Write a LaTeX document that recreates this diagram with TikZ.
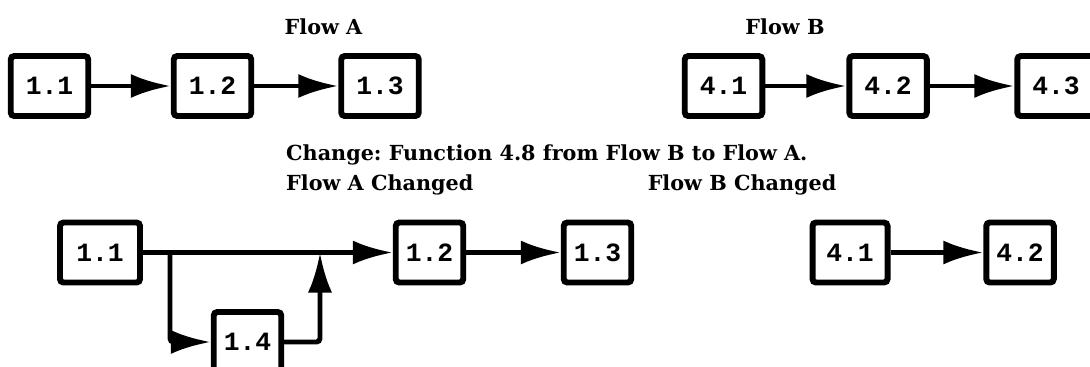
\documentclass[tikz,border=0pt]{standalone}
\usepackage{fontspec}
\newfontfamily\boxfont{Liberation Mono}
\newfontfamily\headfont{DejaVu Serif}
\usetikzlibrary{arrows.meta}

\begin{document}
\begin{tikzpicture}[
	box/.style={draw, line width=3.4pt, rounded corners=2pt, minimum width=1.55cm, minimum height=1.2cm, font=\boxfont\bfseries\fontsize{15}{17}\selectfont},
	lowbox/.style={box, minimum width=1.35cm},
	flow/.style={line width=2.8pt, -{Latex[length=0.8cm,width=0.48cm]}},
	title/.style={font=\headfont\bfseries\fontsize{11.8}{14}\selectfont}
	]
		
		\useasboundingbox (0,0) rectangle (21.8,-7.32);
		
		\node[title] (titleA) at (6.47,-0.54) {Flow A};
		\node[title] (titleB) at (15.7,-0.54) {Flow B};
		
		\node[box] (A1) at (0.99,-1.72) {1.1};
		\node[box] (A2) at (4.25,-1.72) {1.2};
		\node[box] (A3) at (7.6,-1.72) {1.3};
		\draw[flow] (A1) -- (A2);
		\draw[flow] (A2) -- (A3);
		
		\node[box] (B1) at (14.47,-1.72) {4.1};
		\node[box] (B2) at (17.76,-1.72) {4.2};
		\node[box] (B3) at (21.12,-1.72) {4.3};
		\draw[flow] (B1) -- (B2);
		\draw[flow] (B2) -- (B3);
		
		\node[title, anchor=west] (change) at (5.6,-3.1) {Change:\ Function 4.8 from Flow B to Flow A.};
		\node[title, anchor=west] (titleAc) at (5.6,-3.7) {Flow A Changed};
		\node[title, anchor=east] (titleBc) at (16.85,-3.7) {Flow B Changed};
		
		\node[lowbox, minimum width=1.6cm] (C1) at (2.0,-5.05) {1.1};
		\node[lowbox] (C2) at (8.59,-5.05) {1.2};
		\node[lowbox] (C3) at (11.95,-5.05) {1.3};
		\node[lowbox] (C4) at (4.95,-6.84) {1.4};
		\coordinate (split) at (3.4,-5.05);
		\coordinate (merge) at (6.4,-5.05);
		\draw[flow] (C1) -- (C2);
		\draw[flow] (C2) -- (C3);
		\draw[flow, rounded corners=2pt] (split) |- (C4);
		\draw[flow, rounded corners=2pt] (C4) -| (merge);
		
		\node[lowbox, minimum width=1.5cm] (D1) at (17.0,-5.05) {4.1};
		\node[lowbox] (D2) at (20.4,-5.05) {4.2};
		\draw[flow] (D1) -- (D2);
		
	\end{tikzpicture}
\end{document}
